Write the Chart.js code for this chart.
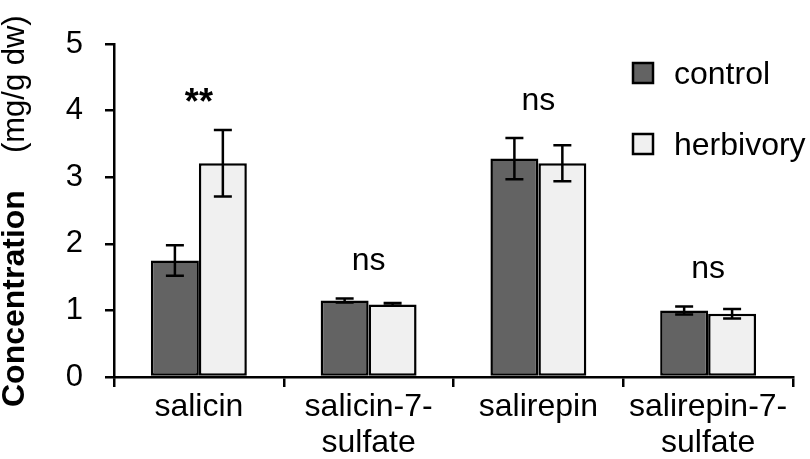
<!DOCTYPE html>
<html>
<head>
<meta charset="utf-8">
<script src="https://cdn.jsdelivr.net/npm/chart.js@4.4.1/dist/chart.umd.min.js"></script>
<style>
  html, body { margin: 0; padding: 0; background: #fff; }
  #chart { display: block; }
</style>
</head>
<body>
<canvas id="chart" width="810" height="459"></canvas>
<script>
// --- data ---
const categories = ["salicin", ["salicin-7-", "sulfate"], "salirepin", ["salirepin-7-", "sulfate"]];
const seriesNames = ["control", "herbivory"];
const controlValues = [1.75, 1.15, 3.28, 1.00];
const controlErrors = [0.23, 0.03, 0.31, 0.06];
const herbivoryValues = [3.21, 1.09, 3.21, 0.95];
const herbivoryErrors = [0.50, 0.02, 0.27, 0.07];
const sigLabels = ["**", "ns", "ns", "ns"];
const yTicks = [0, 1, 2, 3, 4, 5];

const FONT = "'Liberation Sans', Arial, sans-serif";
const COLORS = { control: "#636363", herbivory: "#f0f0f0", ink: "#000000" };

// error bars drawn on top of each bar
const errorBarPlugin = {
  id: "errorBars",
  afterDatasetsDraw(chart) {
    const { ctx } = chart;
    const y = chart.scales.y;
    ctx.save();
    ctx.strokeStyle = COLORS.ink;
    ctx.lineWidth = 2.5;
    chart.data.datasets.forEach((ds, i) => {
      const meta = chart.getDatasetMeta(i);
      meta.data.forEach((bar, j) => {
        const v = ds.data[j], e = ds.errors[j];
        const top = y.getPixelForValue(v + e);
        const bot = y.getPixelForValue(v - e);
        const cap = 9;
        ctx.beginPath();
        ctx.moveTo(bar.x, top); ctx.lineTo(bar.x, bot);
        ctx.moveTo(bar.x - cap, top); ctx.lineTo(bar.x + cap, top);
        ctx.moveTo(bar.x - cap, bot); ctx.lineTo(bar.x + cap, bot);
        ctx.stroke();
      });
    });
    ctx.restore();
  },
};

// significance marks, legend and y title
const decorPlugin = {
  id: "decor",
  afterDraw(chart) {
    const { ctx } = chart;
    const x = chart.scales.x, y = chart.scales.y;
    ctx.save();
    ctx.fillStyle = COLORS.ink;

    // "**" / "ns" above the taller error bar of each group
    ctx.textAlign = "center";
    ctx.textBaseline = "alphabetic";
    sigLabels.forEach((lab, j) => {
      ctx.font = (lab === "**" ? "bold 36px " : "32px ") + FONT;
      const hi = Math.max(controlValues[j] + controlErrors[j], herbivoryValues[j] + herbivoryErrors[j]);
      const m = ctx.measureText(lab);
      const bottom = y.getPixelForValue(hi) - 28;
      ctx.fillText(lab, x.getPixelForValue(j), bottom - m.actualBoundingBoxDescent);
    });

    // legend
    const fills = [COLORS.control, COLORS.herbivory];
    const rows = [73, 144];
    ctx.font = "32px " + FONT;
    ctx.textAlign = "left";
    ctx.textBaseline = "middle";
    seriesNames.forEach((name, i) => {
      ctx.fillStyle = fills[i];
      ctx.fillRect(633, rows[i] - 10, 20, 20);
      ctx.strokeStyle = COLORS.ink;
      ctx.lineWidth = 2.5;
      ctx.strokeRect(633, rows[i] - 10, 20, 20);
      ctx.fillStyle = COLORS.ink;
      ctx.fillText(name, 674, rows[i] + 2);
    });

    // rotated y title: bold "Concentration" then "(mg/g dw)"
    ctx.translate(24, 407);
    ctx.rotate(-Math.PI / 2);
    ctx.textAlign = "left";
    ctx.textBaseline = "alphabetic";
    ctx.font = "bold 32px " + FONT;
    ctx.fillText("Concentration", 0, 0);
    const w = ctx.measureText("Concentration").width;
    ctx.font = "31px " + FONT;
    ctx.fillText("(mg/g dw)", w + 37, 0);
    ctx.restore();
  },
};

new Chart(document.getElementById("chart"), {
  type: "bar",
  data: {
    labels: categories,
    datasets: [
      {
        label: seriesNames[0],
        data: controlValues,
        errors: controlErrors,
        backgroundColor: COLORS.control,
        borderColor: COLORS.ink,
        borderWidth: 2.5,
        borderSkipped: false,
      },
      {
        label: seriesNames[1],
        data: herbivoryValues,
        errors: herbivoryErrors,
        backgroundColor: COLORS.herbivory,
        borderColor: COLORS.ink,
        borderWidth: 2.5,
        borderSkipped: false,
      },
    ],
  },
  options: {
    responsive: false,
    animation: false,
    events: [],
    layout: { padding: { top: 44, right: 17, left: 0, bottom: 0 } },
    categoryPercentage: 0.565,
    barPercentage: 1.0,
    plugins: { legend: { display: false }, tooltip: { enabled: false } },
    scales: {
      x: {
        grid: { display: true, offset: true, drawOnChartArea: false, tickLength: 10, color: COLORS.ink, lineWidth: 2.5 },
        border: { display: true, color: COLORS.ink, width: 2.5 },
        ticks: { color: COLORS.ink, font: { family: FONT, size: 32, lineHeight: 1.1 }, padding: 3, maxRotation: 0, autoSkip: false },
        afterFit(scale) { scale.height = 82; },
      },
      y: {
        min: 0,
        max: 5,
        afterBuildTicks(scale) { scale.ticks = yTicks.map((v) => ({ value: v })); },
        grid: { display: true, drawOnChartArea: false, tickLength: 9, color: COLORS.ink, lineWidth: 2.5 },
        border: { display: true, color: COLORS.ink, width: 2.5 },
        ticks: { color: COLORS.ink, font: { family: FONT, size: 31 }, padding: 22 },
        afterFit(scale) { scale.width = 114; },
      },
    },
  },
  plugins: [errorBarPlugin, decorPlugin],
});
</script>
</body>
</html>
